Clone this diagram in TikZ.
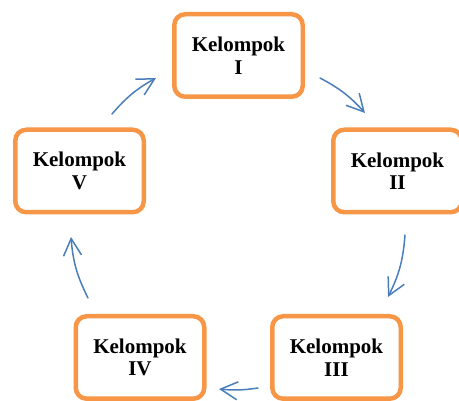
\documentclass[tikz,border=0pt]{standalone}
\usepackage{fontspec}
\setmainfont{Liberation Serif}
\usetikzlibrary{arrows.meta}
\definecolor{boxorange}{HTML}{F79646}
\definecolor{arrowblue}{HTML}{4A7EBB}
\begin{document}
\begin{tikzpicture}[x=1pt,y=1pt,
  grp/.style={draw=boxorange, line width=4.5pt, rounded corners=11pt, fill=white,
    minimum width=128.5pt, minimum height=82.5pt, inner sep=0pt, align=center,
    font=\fontsize{21}{22.5}\selectfont\bfseries},
  cyc/.style={draw=arrowblue, line width=1.5pt, line cap=round,
    -{Straight Barb[length=17pt,width=18pt,line width=1.5pt]}}]
\useasboundingbox (0,0) rectangle (459,-401);
\node[grp] (k1) at (238.5,-55.5) {Kelompok\\I};
\node[grp] (k2) at (397.5,-171) {Kelompok\\II};
\node[grp] (k3) at (336.5,-357.5) {Kelompok\\III};
\node[grp] (k4) at (140,-357.5) {Kelompok\\IV};
\node[grp] (k5) at (79.5,-171) {Kelompok\\V};
\coordinate (a1s) at (112,-114); \coordinate (a1e) at (156,-78);
\coordinate (a2s) at (320,-78);  \coordinate (a2e) at (365,-113);
\coordinate (a3s) at (405,-235); \coordinate (a3e) at (388,-297);
\coordinate (a4s) at (258,-388); \coordinate (a4e) at (219,-389);
\coordinate (a5s) at (88,-298);  \coordinate (a5e) at (71,-237);
\draw[cyc] (a1s) to[bend left=10] (a1e);
\draw[cyc] (a2s) to[bend left=10] (a2e);
\draw[cyc] (a3s) to[bend left=11] (a3e);
\draw[cyc] (a4s) to[bend left=7] (a4e);
\draw[cyc] (a5s) to[bend left=11] (a5e);
\end{tikzpicture}
\end{document}
